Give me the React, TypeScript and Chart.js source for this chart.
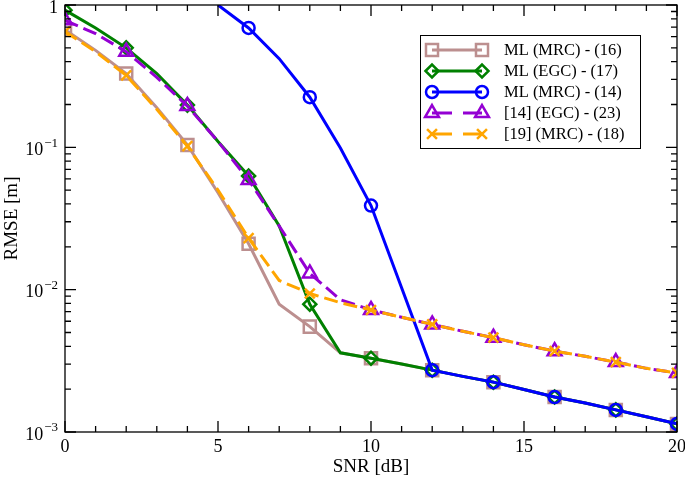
import React, { useEffect, useRef } from 'react';
import { Chart, registerables } from 'chart.js';
import { drawPoint } from 'chart.js/helpers';

Chart.register(...registerables);

const snr = [0, 1, 2, 3, 4, 5, 6, 7, 8, 9, 10, 11, 12, 13, 14, 15, 16, 17, 18, 19, 20];
const mlMrc16 = [0.67, 0.48, 0.33, 0.19, 0.104, 0.048, 0.021, 0.0079, 0.0055, 0.0036, 0.0033, 0.003, 0.00272, 0.00246, 0.00224, 0.00199, 0.00176, 0.0016, 0.00143, 0.00128, 0.00114];
const mlEgc17 = [0.92, 0.69, 0.5, 0.33, 0.198, 0.11, 0.063, 0.028, 0.0079, 0.0036, 0.0033, 0.003, 0.00272, 0.00246, 0.00224, 0.00199, 0.00176, 0.0016, 0.00143, 0.00128, 0.00114];
const mlMrc14 = [null, null, null, null, null, 1.0, 0.69, 0.42, 0.225, 0.099, 0.039, 0.0103, 0.00272, 0.00246, 0.00224, 0.00199, 0.00176, 0.0016, 0.00143, 0.00128, 0.00114];
const ref14Egc23 = [0.78, 0.63, 0.47, 0.31, 0.195, 0.11, 0.059, 0.028, 0.013, 0.0085, 0.0072, 0.0064, 0.0057, 0.0051, 0.0046, 0.0041, 0.0037, 0.0034, 0.0031, 0.0028, 0.0026];
const ref19Mrc18 = [0.65, 0.47, 0.32, 0.185, 0.102, 0.05, 0.023, 0.0116, 0.0094, 0.0081, 0.0072, 0.0064, 0.0057, 0.0051, 0.0046, 0.0041, 0.0037, 0.0034, 0.0031, 0.0028, 0.0026];

const seriesLabels = ['ML (MRC) - (16)', 'ML (EGC) - (17)', 'ML (MRC) - (14)', '[14] (EGC) - (23)', '[19] (MRC) - (18)'];

const xMajorTicks = [0, 5, 10, 15, 20];
const xMinorTicks = [0, 1, 2, 3, 4, 5, 6, 7, 8, 9, 10, 11, 12, 13, 14, 15, 16, 17, 18, 19, 20];
const yTickValues = [1, 0.1, 0.01, 0.001];
const yTickBases = ['1', '10', '10', '10'];
const yTickExps = ['', '\u22121', '\u22122', '\u22123'];
const xTitle = 'SNR [dB]';
const yTitle = 'RMSE [m]';

const FONT = "'Liberation Serif', 'Times New Roman', serif";

const styles = [
  { color: 'rgb(188,143,143)', pointStyle: 'rect', radius: 8.5, dash: [] as number[], legendDash: [] as number[], order: 5 },
  { color: 'rgb(0,128,0)', pointStyle: 'rectRot', radius: 6.5, dash: [], legendDash: [], order: 4 },
  { color: 'rgb(0,0,255)', pointStyle: 'circle', radius: 6, dash: [], legendDash: [], order: 3 },
  { color: 'rgb(148,0,211)', pointStyle: 'triangle', radius: 8, dash: [14, 6], legendDash: [20, 11], order: 2 },
  { color: 'rgb(255,165,0)', pointStyle: 'crossRot', radius: 7, dash: [14, 6], legendDash: [20, 11], order: 1 },
];

const seriesData = [mlMrc16, mlEgc17, mlMrc14, ref14Egc23, ref19Mrc18];

const framePlugin = {
  id: 'frameAndLegend',
  afterDraw(chart: any) {
    const { ctx, chartArea: a, scales } = chart;
    const xs = scales.x;
    const ys = scales.y;
    ctx.save();
    ctx.strokeStyle = '#000';
    ctx.lineWidth = 1.3;
    ctx.setLineDash([]);
    ctx.strokeRect(a.left, a.top, a.right - a.left, a.bottom - a.top);
    ctx.beginPath();
    for (const v of xMinorTicks) {
      const px = xs.getPixelForValue(v);
      const len = xMajorTicks.includes(v) ? 11 : 6;
      ctx.moveTo(px, a.bottom);
      ctx.lineTo(px, a.bottom - len);
      ctx.moveTo(px, a.top);
      ctx.lineTo(px, a.top + len);
    }
    for (let d = -3; d <= 0; d++) {
      for (let m = 1; m <= 9; m++) {
        const v = m * Math.pow(10, d);
        if (v > 1.0000001) continue;
        const py = ys.getPixelForValue(v);
        const len = m === 1 ? 11 : 6;
        ctx.moveTo(a.left, py);
        ctx.lineTo(a.left + len, py);
        ctx.moveTo(a.right, py);
        ctx.lineTo(a.right - len, py);
      }
    }
    ctx.stroke();

    ctx.fillStyle = '#000';
    ctx.textBaseline = 'middle';
    yTickValues.forEach((v, i) => {
      const py = ys.getPixelForValue(v);
      const rightX = a.left - 7;
      ctx.font = `13px ${FONT}`;
      const expW = yTickExps[i] ? ctx.measureText(yTickExps[i]).width : 0;
      if (yTickExps[i]) {
        ctx.textAlign = 'right';
        ctx.fillText(yTickExps[i], rightX, py - 4);
      }
      ctx.font = `18px ${FONT}`;
      ctx.textAlign = 'right';
      ctx.fillText(yTickBases[i], rightX - expW - (expW ? 1 : 0), py + 3);
    });

    const bx = 420, by = 35, bw = 220, bh = 113;
    ctx.fillStyle = '#fff';
    ctx.fillRect(bx, by, bw, bh);
    ctx.strokeStyle = '#000';
    ctx.lineWidth = 1;
    ctx.strokeRect(bx + 0.5, by + 0.5, bw, bh);
    styles.forEach((s, i) => {
      const y = 50 + i * 21;
      const x1 = 432, x2 = 482;
      ctx.strokeStyle = s.color;
      ctx.lineWidth = 3;
      ctx.setLineDash(s.legendDash);
      ctx.beginPath();
      ctx.moveTo(x1, y);
      ctx.lineTo(x2, y);
      ctx.stroke();
      ctx.setLineDash([]);
      ctx.lineWidth = 2.5;
      ctx.fillStyle = 'rgba(0,0,0,0)';
      for (const px of [x1, x2]) {
        drawPoint(ctx, { pointStyle: s.pointStyle, rotation: 0, radius: s.radius, borderWidth: 2.5 } as any, px, y);
      }
      ctx.fillStyle = '#000';
      ctx.font = `16.5px ${FONT}`;
      ctx.textAlign = 'left';
      ctx.textBaseline = 'middle';
      ctx.fillText(seriesLabels[i], 504, y + 1);
    });
    ctx.restore();
  },
};

export default function App() {
  const canvasRef = useRef<HTMLCanvasElement | null>(null);
  useEffect(() => {
    if (!canvasRef.current) return;
    const datasets = seriesData.map((d, i) => {
      const s = styles[i];
      return {
        label: seriesLabels[i],
        data: d,
        borderColor: s.color,
        backgroundColor: 'rgba(0,0,0,0)',
        borderWidth: 3,
        borderDash: s.dash,
        pointStyle: s.pointStyle,
        pointBorderColor: s.color,
        pointBackgroundColor: 'rgba(0,0,0,0)',
        pointBorderWidth: 2.5,
        pointRadius: (c: any) => (c.dataIndex % 2 === 0 ? s.radius : 0),
        pointHoverRadius: 0,
        fill: false,
        tension: 0,
        order: s.order,
        spanGaps: false,
      };
    });
    const chart = new Chart(canvasRef.current, {
      type: 'line',
      data: { labels: snr, datasets: datasets as any },
      options: {
        animation: false,
        responsive: false,
        devicePixelRatio: 1,
        layout: { autoPadding: false, padding: { left: 0, right: 8, top: 5, bottom: 0 } },
        plugins: { legend: { display: false }, tooltip: { enabled: false } },
        scales: {
          x: {
            type: 'linear',
            min: 0,
            max: 20,
            grid: { display: false, drawTicks: false },
            border: { display: false },
            afterBuildTicks: (s: any) => {
              s.ticks = xMajorTicks.map((v) => ({ value: v }));
            },
            ticks: {
              color: '#000',
              font: { family: FONT, size: 18 },
              padding: 4,
              maxRotation: 0,
              autoSkip: false,
              callback: (v: any) => String(v),
            },
            title: {
              display: true,
              text: xTitle,
              color: '#000',
              font: { family: FONT, size: 19 },
              padding: { top: 0, bottom: 0 },
            },
            afterFit: (s: any) => {
              s.height = 46;
              s.paddingLeft = 0;
              s.paddingRight = 0;
            },
          },
          y: {
            type: 'logarithmic',
            min: 0.001,
            max: 1,
            grid: { display: false, drawTicks: false },
            border: { display: false },
            ticks: { display: false },
            title: {
              display: true,
              text: yTitle,
              color: '#000',
              font: { family: FONT, size: 19 },
              padding: { top: 1, bottom: 0 },
            },
            afterFit: (s: any) => {
              s.width = 65;
              s.paddingTop = 0;
              s.paddingBottom = 0;
            },
          },
        },
      } as any,
      plugins: [framePlugin],
    });
    return () => chart.destroy();
  }, []);
  return (
    <div style={{ position: 'absolute', left: 0, top: 0, width: 685, height: 478, background: '#fff' }}>
      <canvas ref={canvasRef} width={685} height={478} style={{ display: 'block' }} />
    </div>
  );
}
